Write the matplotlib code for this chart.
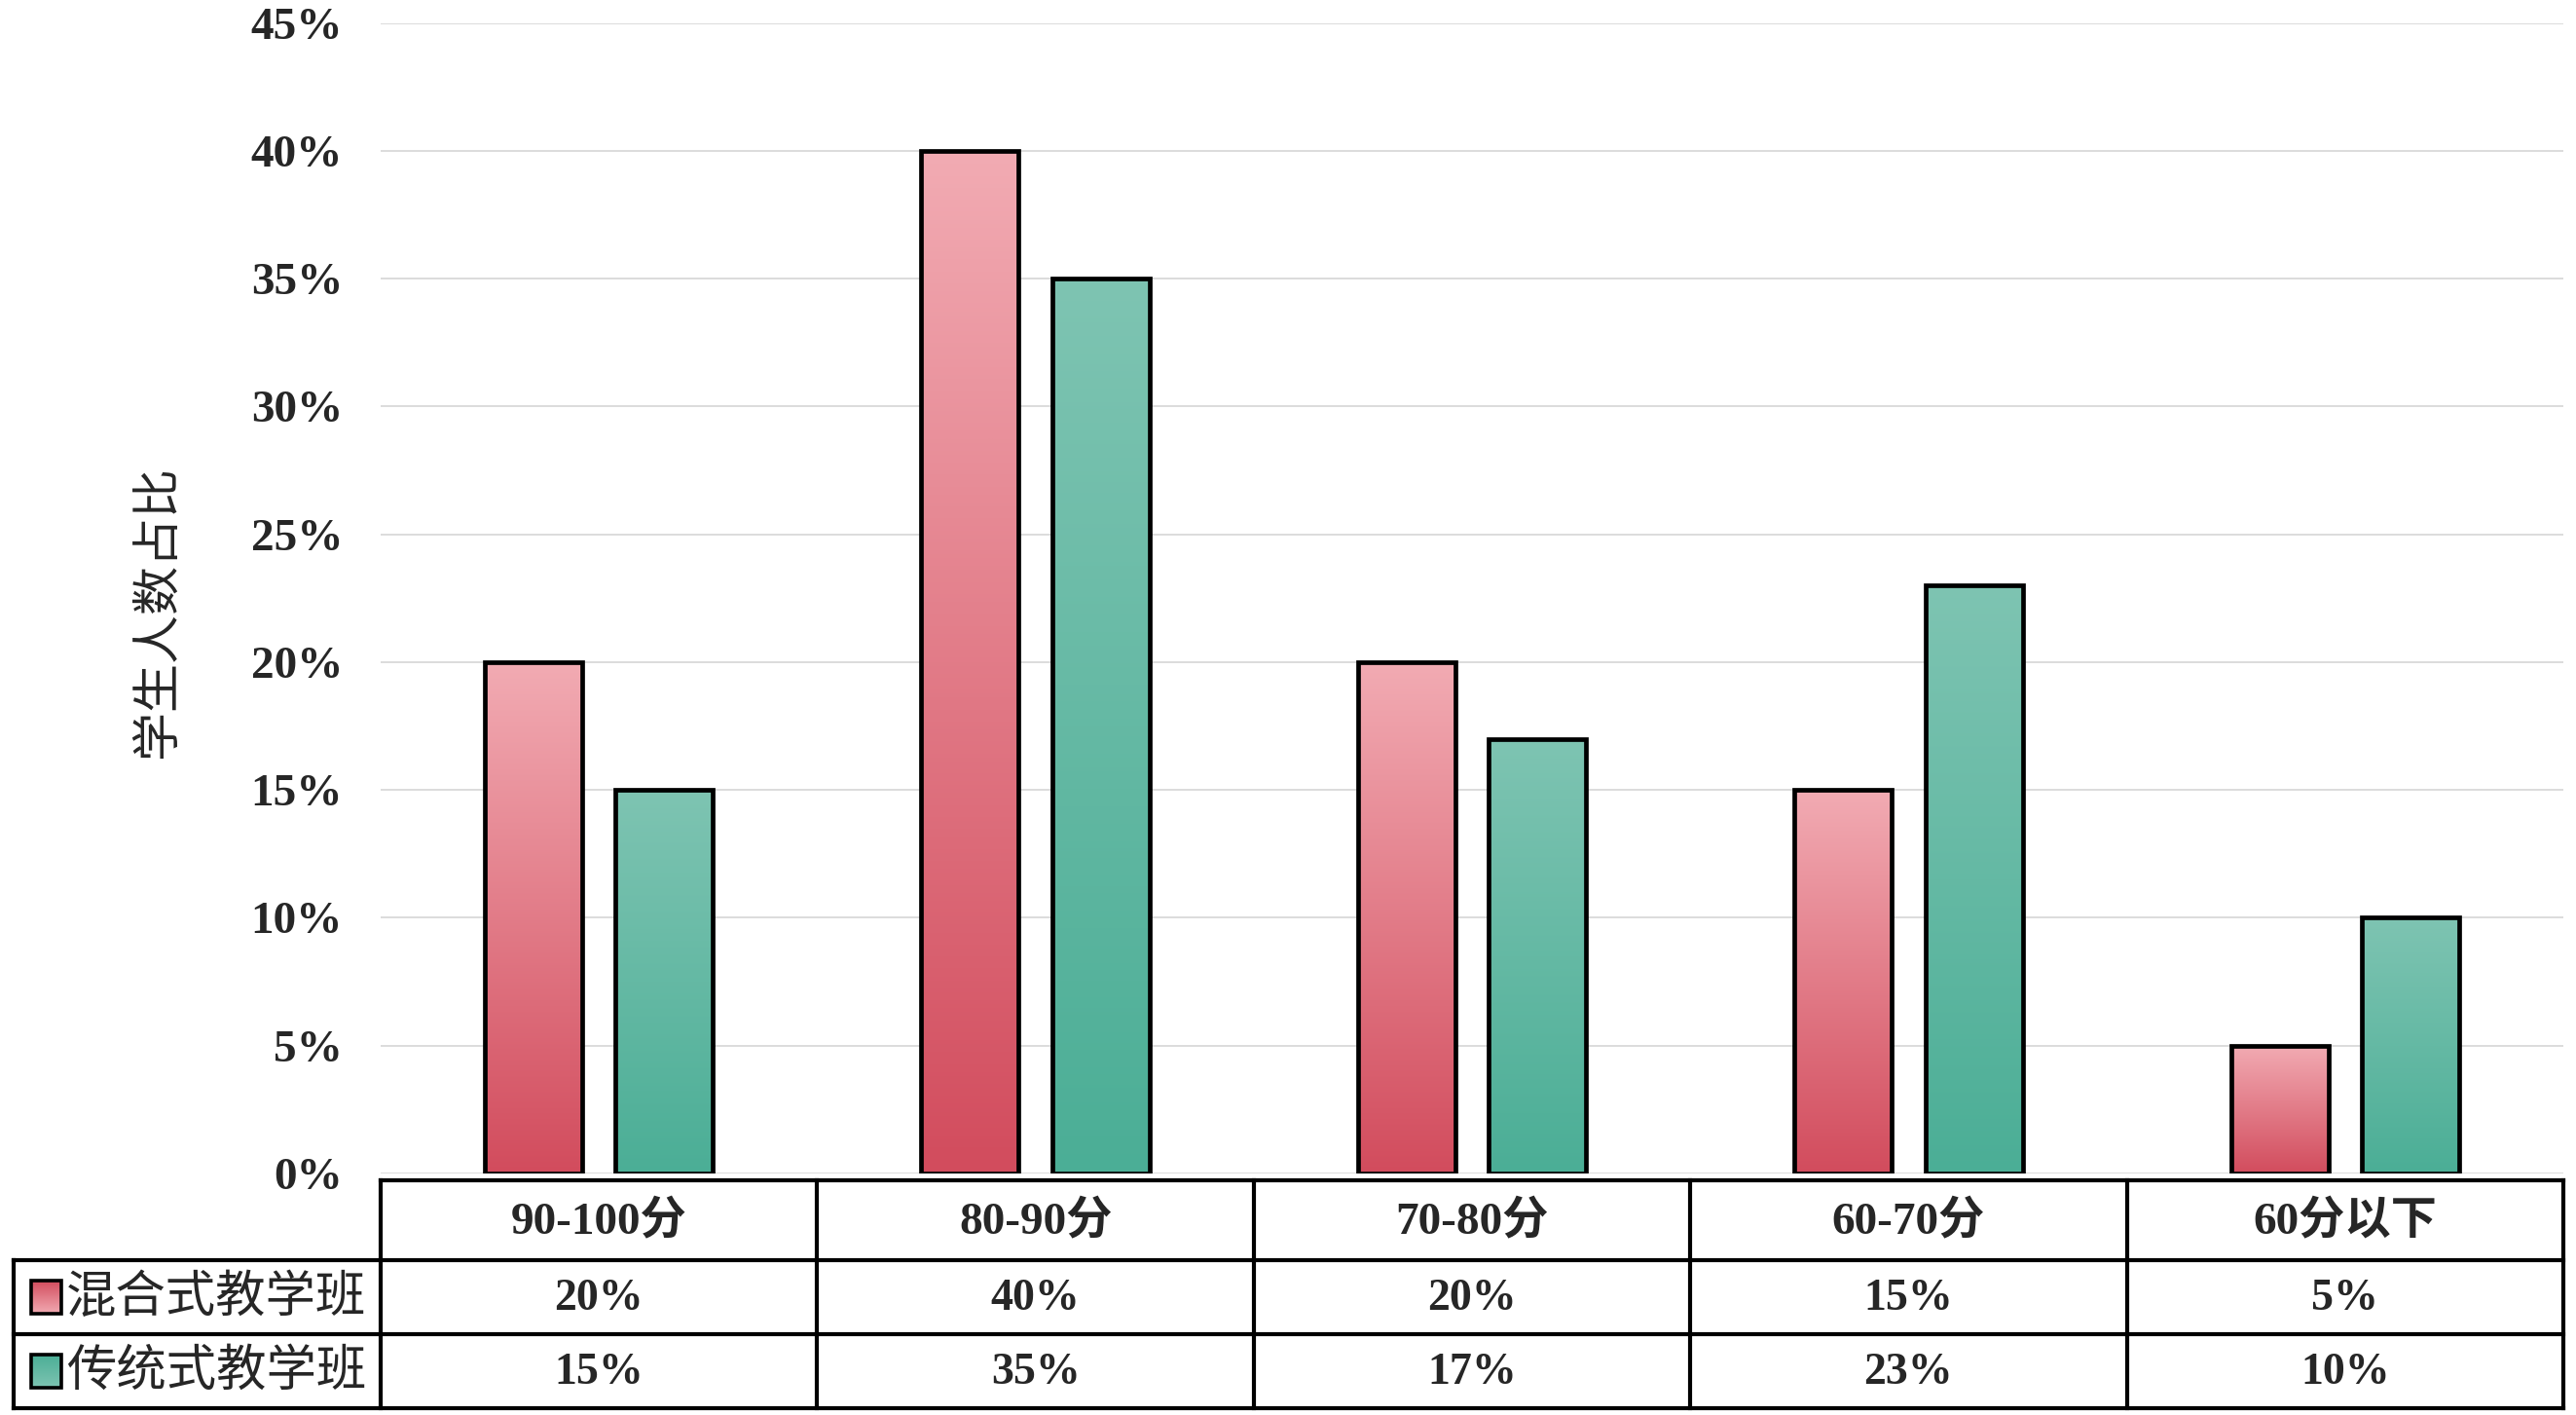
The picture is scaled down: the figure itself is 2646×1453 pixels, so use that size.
import numpy as np
import matplotlib
matplotlib.use("Agg")
import matplotlib.pyplot as plt
from matplotlib.colors import LinearSegmentedColormap
from matplotlib.patches import Rectangle

# ---------------- data ----------------
categories = ['90-100分', '80-90分', '70-80分', '60-70分', '60分以下']
series_names = ['混合式教学班', '传统式教学班']
hybrid = [20, 40, 20, 15, 5]          # 混合式教学班 (%)
traditional = [15, 35, 17, 23, 10]    # 传统式教学班 (%)
y_ticks = [0, 5, 10, 15, 20, 25, 30, 35, 40, 45]
y_label = '学生人数占比'

# ---------------- style ----------------
W, H = 2646, 1453
SERIF_B = dict(family=['Liberation Serif', 'Noto Sans CJK SC'], weight='bold')
CJK = dict(family=['Noto Sans CJK SC', 'DejaVu Sans'])
TXT = '#262626'
pink_cmap = LinearSegmentedColormap.from_list('pink', ['#D24C5D', '#F2ABB3'])
green_cmap = LinearSegmentedColormap.from_list('green', ['#4BAE96', '#7EC4B2'])
grad = np.linspace(0, 1, 256).reshape(-1, 1)

fig = plt.figure(figsize=(W / 100, H / 100), dpi=100)
fig.patch.set_facecolor('white')

x_left, x_right = 391, 2633
y_zero, y_top = 1205, 23.6
ax = fig.add_axes([x_left / W, 1 - y_zero / H, (x_right - x_left) / W, (y_zero - y_top) / H])

x = np.arange(len(categories))
bw = 0.223
off = 0.15


def gradient_bars(xs, vals, cmap):
    bars = ax.bar(xs, vals, width=bw, facecolor='none', edgecolor='black',
                  linewidth=3.4, zorder=4)
    for b in bars:
        x0, y0, w, h = b.get_x(), b.get_y(), b.get_width(), b.get_height()
        im = ax.imshow(grad, extent=[x0, x0 + w, y0, y0 + h], origin='lower',
                       aspect='auto', cmap=cmap, zorder=3, interpolation='bilinear')
        im.set_clip_path(b)
    return bars


gradient_bars(x - off, hybrid, pink_cmap)
gradient_bars(x + off, traditional, green_cmap)

ax.set_xlim(-0.5, len(categories) - 0.5)
ax.set_ylim(0, 45)
ax.set_yticks(y_ticks)
ax.set_yticklabels([f'{v}%' for v in y_ticks], fontsize=34, color=TXT, **SERIF_B)
ax.set_xticks([])
ax.tick_params(axis='y', length=0, pad=28)
ax.grid(axis='y', color='#D9D9D9', linewidth=1.3, zorder=0)
ax.set_axisbelow(True)
for s in ax.spines.values():
    s.set_visible(False)

fig.text(162 / W, 1 - 628 / H, y_label, rotation=90, ha='center', va='center',
         fontsize=36, color=TXT, **CJK)

# ---------------- data table ----------------
t_top, t_bot, t_left = 1212, 1446, 13.5
px_per_unit = (x_right - x_left) / len(categories)
x_tab_left = -0.5 - (x_left - t_left) / px_per_unit
tab = fig.add_axes([t_left / W, 1 - t_bot / H, (x_right - t_left) / W, (t_bot - t_top) / H])
tab.set_xlim(x_tab_left, len(categories) - 0.5)
row_edges = [0, 82, 158, 234]
tab.set_ylim(row_edges[-1], 0)
tab.axis('off')

lw = 3.0
# horizontal lines
tab.plot([-0.5, len(categories) - 0.5], [row_edges[0]] * 2, color='black', lw=lw, clip_on=False, solid_capstyle='projecting')
for r in row_edges[1:]:
    tab.plot([x_tab_left, len(categories) - 0.5], [r, r], color='black', lw=lw, clip_on=False, solid_capstyle='projecting')
# vertical lines
tab.plot([x_tab_left] * 2, [row_edges[1], row_edges[-1]], color='black', lw=lw, clip_on=False, solid_capstyle='projecting')
for i in range(len(categories) + 1):
    xv = i - 0.5
    tab.plot([xv, xv], [row_edges[0], row_edges[-1]], color='black', lw=lw, clip_on=False, solid_capstyle='projecting')

# header
for i, c in enumerate(categories):
    tab.text(i, (row_edges[0] + row_edges[1]) / 2 + 2, c, ha='center', va='center',
             fontsize=34, color=TXT, **SERIF_B)

sw_w = 31 / px_per_unit
sw_x = x_tab_left + (32 - t_left) / px_per_unit
txt_x = x_tab_left + (68 - t_left) / px_per_unit
for k, (name, vals, cmap) in enumerate(zip(series_names, [hybrid, traditional], [pink_cmap, green_cmap])):
    r0, r1 = row_edges[k + 1], row_edges[k + 2]
    yc = (r0 + r1) / 2
    sw = Rectangle((sw_x, yc - 17), sw_w, 34, facecolor='none', edgecolor='black', lw=2.6, zorder=4)
    tab.add_patch(sw)
    im = tab.imshow(grad, extent=[sw_x, sw_x + sw_w, yc + 17, yc - 17], origin='upper',
                    aspect='auto', cmap=cmap, zorder=3)
    im.set_clip_path(sw)
    tab.text(txt_x, yc, name, ha='left', va='center', fontsize=37, color=TXT, **CJK)
    for i, v in enumerate(vals):
        tab.text(i, yc + 2, f'{v}%', ha='center', va='center', fontsize=33, color=TXT, **SERIF_B)

tab.set_xlim(x_tab_left, len(categories) - 0.5)
tab.set_ylim(row_edges[-1], 0)

fig.savefig('out.png', dpi=100, facecolor='white')
